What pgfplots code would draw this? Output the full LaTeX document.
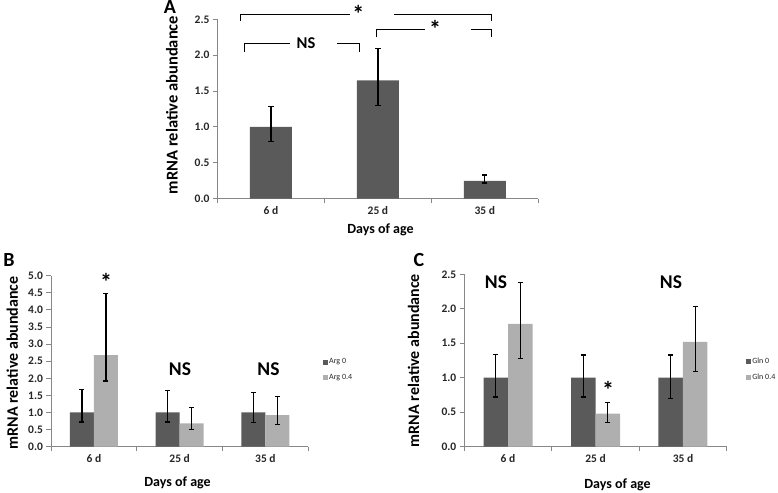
\documentclass[border=0pt]{standalone}
\usepackage{fontspec}
\setmainfont{Carlito}
\usepackage{pgfplots}
\pgfplotsset{compat=1.18}

\definecolor{darkbar}{HTML}{5A5A5A}
\definecolor{lightbar}{HTML}{AFAFAF}
\definecolor{axisgray}{HTML}{878787}
\definecolor{ticktext}{HTML}{262626}

\tikzset{sigstar/.style={font=\bfseries\fontsize{24}{24}\selectfont}}

\pgfplotsset{
  panel/.style={
    scale only axis, anchor=south west, clip=false,
    axis x line*=bottom, axis y line*=left,
    axis line style={axisgray, line width=0.9pt},
    xmin=-0.5, xmax=2.5, ymin=0,
    xtick={-0.5,0.5,1.5,2.5}, x tick label as interval,
    xticklabels={6 d,25 d,35 d},
    tick align=outside, major tick length=4.5pt,
    tick style={axisgray, line width=0.9pt},
    ticklabel style={font=\bfseries\fontsize{11.5}{13}\selectfont, text=ticktext},
    yticklabel style={/pgf/number format/.cd, fixed, fixed zerofill, precision=1, assume math mode=true},
    ylabel={mRNA relative abundance}, xlabel={Days of age},
    ylabel style={font=\bfseries\fontsize{16}{18}\selectfont, text=black},
    xlabel style={font=\bfseries\fontsize{14}{18}\selectfont, text=black},
    ybar=0pt,
    legend image code/.code={\fill[##1] (0pt,-2.5pt) rectangle (5pt,2.5pt);},
    legend style={draw=none, fill=none, anchor=west, inner sep=0pt,
      row sep=6pt, font=\fontsize{8}{9}\selectfont, text=ticktext,
      nodes={inner sep=1.5pt}},
    legend cell align=left,
  },
  bars/.style={draw=none, fill=#1,
    error bars/.cd, y dir=both, y explicit,
    error bar style={black, line width=1.3pt},
    error mark options={rotate=90, black, mark size=2.6pt, line width=1.3pt}},
}

\begin{document}
\begin{tikzpicture}[x=1pt,y=1pt]
\useasboundingbox (0,0) rectangle (778,492);

% ---- A ----
\begin{axis}[panel, at={(217.5pt,293.3pt)}, width=320.8pt, height=179.4pt,
  ymax=2.5, ytick={0,0.5,...,2.5}, bar width=42pt,
  ylabel style={at={(axis description cs:-0.142,0.522)}, anchor=center, font=\bfseries\fontsize{16.5}{18}\selectfont},
  xlabel style={at={(axis description cs:0.508,-0.174)}, anchor=center}]
\addplot[bars=darkbar] coordinates {
  (0,1.00) += (0,0.28) -= (0,0.20)
  (1,1.65) += (0,0.44) -= (0,0.35)
  (2,0.25) += (0,0.08) -= (0,0.03)};
\draw[black, line width=0.8pt] (axis cs:-0.283,2.474) |- (axis cs:0.739,2.574);
\draw[black, line width=0.8pt] (axis cs:1.151,2.574) -| (axis cs:2.058,2.474);
\node[sigstar] at (axis cs:0.817,2.574) {*};
\draw[black, line width=0.8pt] (axis cs:0.989,2.249) |- (axis cs:1.443,2.361);
\draw[black, line width=0.8pt] (axis cs:1.868,2.361) -| (axis cs:2.058,2.249);
\node[sigstar] at (axis cs:1.536,2.361) {*};
\draw[black, line width=0.8pt] (axis cs:-0.252,2.044) |- (axis cs:0.178,2.166);
\draw[black, line width=0.8pt] (axis cs:0.620,2.166) -| (axis cs:0.826,2.044);
\node[font=\bfseries\fontsize{16.5}{17}\selectfont] at (axis cs:0.328,2.166) {NS};
\end{axis}

% ---- B ----
\begin{axis}[panel, at={(51pt,45.3pt)}, width=257.3pt, height=171pt,
  ymax=5, ytick={0,0.5,...,5}, bar width=24pt,
  ylabel style={at={(axis description cs:-0.150,0.49)}, anchor=center},
  xlabel style={at={(axis description cs:0.492,-0.214)}, anchor=center},
  legend style={at={(axis description cs:1.055,0.449)}}]
\addplot[bars=darkbar] coordinates {
  (0,1.00) += (0,0.68) -= (0,0.28)
  (1,1.00) += (0,0.64) -= (0,0.28)
  (2,1.00) += (0,0.59) -= (0,0.30)};
\addplot[bars=lightbar] coordinates {
  (0,2.68) += (0,1.80) -= (0,0.76)
  (1,0.68) += (0,0.47) -= (0,0.17)
  (2,0.92) += (0,0.54) -= (0,0.27)};
\legend{Arg 0, Arg 0.4}
\node[sigstar] at (axis cs:0.141,4.82) {*};
\node[font=\bfseries\fontsize{19.5}{20}\selectfont] at (axis cs:1.004,2.27) {NS};
\node[font=\bfseries\fontsize{19.5}{20}\selectfont] at (axis cs:2.036,2.27) {NS};
\end{axis}

% ---- C ----
\begin{axis}[panel, at={(464.3pt,45.3pt)}, width=262.4pt, height=172.4pt,
  ymax=2.5, ytick={0,0.5,...,2.5}, bar width=24.5pt,
  ylabel style={at={(axis description cs:-0.193,0.5)}, anchor=center},
  xlabel style={at={(axis description cs:0.584,-0.222)}, anchor=center},
  legend style={at={(axis description cs:1.072,0.449)}}]
\addplot[bars=darkbar] coordinates {
  (0,1.00) += (0,0.34) -= (0,0.28)
  (1,1.00) += (0,0.33) -= (0,0.28)
  (2,1.00) += (0,0.33) -= (0,0.30)};
\addplot[bars=lightbar] coordinates {
  (0,1.78) += (0,0.60) -= (0,0.50)
  (1,0.48) += (0,0.16) -= (0,0.13)
  (2,1.52) += (0,0.51) -= (0,0.43)};
\legend{Gln 0, Gln 0.4}
\node[font=\bfseries\fontsize{19.5}{20}\selectfont] at (axis cs:-0.138,2.39) {NS};
\node[font=\bfseries\fontsize{19.5}{20}\selectfont] at (axis cs:1.863,2.39) {NS};
\node[sigstar] at (axis cs:1.143,0.83) {*};
\end{axis}

% panel letters
\node[font=\bfseries\fontsize{20}{20}\selectfont, anchor=base] at (170,478.5) {A};
\node[font=\bfseries\fontsize{20}{20}\selectfont, anchor=base] at (9,225) {B};
\node[font=\bfseries\fontsize{20}{20}\selectfont, anchor=base] at (419,225) {C};
\end{tikzpicture}
\end{document}
